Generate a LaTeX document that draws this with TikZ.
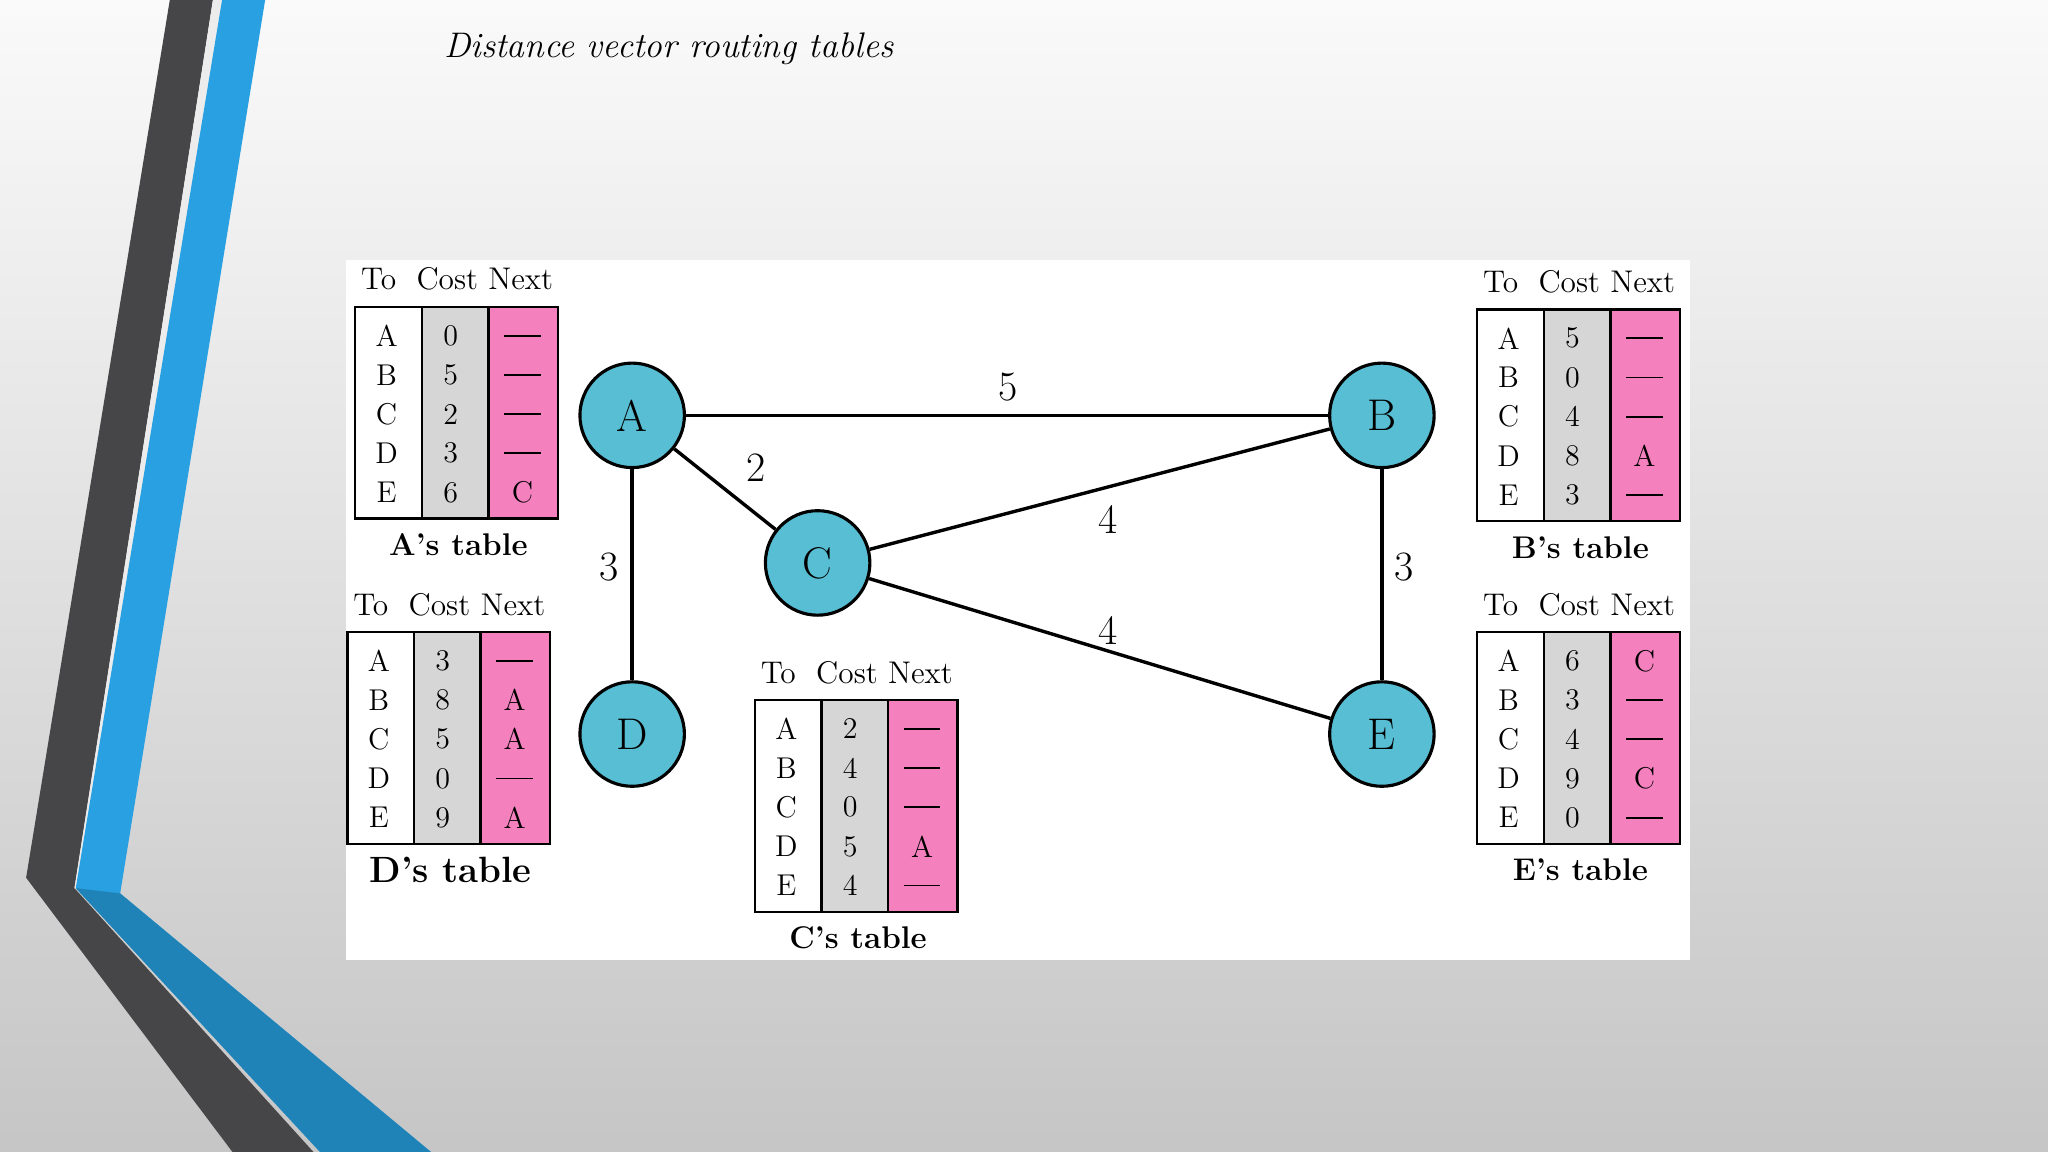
\documentclass[tikz,border=0pt]{standalone}
\usetikzlibrary{shapes.geometric}
\definecolor{nodecyan}{RGB}{88,190,212}
\definecolor{pinkc}{RGB}{244,128,190}
\definecolor{grayc}{RGB}{214,214,214}
\definecolor{darkband}{RGB}{70,70,72}
\definecolor{blueband}{RGB}{40,160,225}
\tikzset{
  router/.style={circle,draw=black,line width=1.2pt,fill=nodecyan,minimum size=40pt,font=\fontsize{17}{17}\selectfont,inner sep=0pt},
  link/.style={line width=1.3pt},
  elab/.style={font=\fontsize{16}{16}\selectfont},
  cell/.style={font=\fontsize{11.5}{12}\selectfont,inner sep=0pt},
  hdr/.style={font=\fontsize{12}{12}\selectfont,anchor=base},
  tcaption/.style={font=\bfseries\fontsize{12}{12}\selectfont}
}
\newcommand\dsh{\rule[0pt]{14pt}{0.7pt}}
% #1 name, #2 x, #3 y (top-left), #4 rows, #5 caption
\newcommand\dvtable[5]{%
  \fill[white] (#2,#3) rectangle +(51,162);
  \fill[grayc] (#2+51,#3) rectangle +(51,162);
  \fill[pinkc] (#2+102,#3) rectangle +(53,162);
  \draw[line width=0.9pt] (#2,#3) rectangle +(155,162);
  \draw[line width=0.9pt] (#2+51,#3) -- +(0,162) (#2+102,#3) -- +(0,162);
  \node[hdr] (#1h) at (#2+78,#3-13) {To\ \ Cost\ Next};
  \foreach \t/\c/\n [count=\i] in {#4}{
    \node[cell] (#1t\i) at (#2+24,#3-8+30*\i) {\t};
    \node[cell] (#1c\i) at (#2+73,#3-8+30*\i) {\c};
    \node[cell] (#1n\i) at (#2+128,#3-8+30*\i) {\n};
  }
  \node[tcaption] (#1cap) at (#2+79,#3+182) {#5};
}
\begin{document}
\begin{tikzpicture}[x=0.5pt,y=-0.5pt]
\useasboundingbox (0,0) rectangle (1568,882);
\shade[top color=white!96!gray,bottom color=gray!45] (0,0) rectangle (1568,882);
% left bands
\fill[darkband] (130,0) -- (163,0) -- (57,680) -- (240,882) -- (178,882) -- (20,672) -- cycle;
\fill[white!85!gray] (163,0) -- (170,0) -- (63,682) -- (57,680) -- cycle;
\fill[blueband] (170,0) -- (203,0) -- (92,684) -- (330,882) -- (245,882) -- (58,680) -- cycle;
\fill[blueband!70!black,opacity=0.6] (58,680) -- (92,684) -- (330,882) -- (245,882) -- cycle;
\node[font=\itshape\fontsize{13.6}{14}\selectfont] (title) at (512,37) {Distance vector routing tables};
% panel
\fill[white] (265,199) rectangle (1294,735);
% routers
\node[router] (A) at (484,318) {A};
\node[router] (B) at (1058,318) {B};
\node[router] (C) at (626,431) {C};
\node[router] (D) at (484,562) {D};
\node[router] (E) at (1058,562) {E};
\draw[link] (A) -- (B);
\draw[link] (A) -- (C);
\draw[link] (A) -- (D);
\draw[link] (C) -- (B);
\draw[link] (C) -- (E);
\draw[link] (B) -- (E);
\node[elab] (l1) at (772,296) {5};
\node[elab] (l2) at (579,358) {2};
\node[elab] (l3) at (848,398) {4};
\node[elab] (l4) at (466,434) {3};
\node[elab] (l5) at (1075,434) {3};
\node[elab] (l6) at (848,483) {4};
% tables
\dvtable{ta}{272}{235}{A/0/\dsh,B/5/\dsh,C/2/\dsh,D/3/\dsh,E/6/C}{A's table}
\dvtable{tb}{1131}{237}{A/5/\dsh,B/0/\dsh,C/4/\dsh,D/8/A,E/3/\dsh}{B's table}
\dvtable{td}{266}{484}{A/3/\dsh,B/8/A,C/5/A,D/0/\dsh,E/9/A}{\fontsize{14}{14}\selectfont D's table}
\dvtable{tc}{578}{536}{A/2/\dsh,B/4/\dsh,C/0/\dsh,D/5/A,E/4/\dsh}{C's table}
\dvtable{te}{1131}{484}{A/6/C,B/3/\dsh,C/4/\dsh,D/9/C,E/0/\dsh}{E's table}
\end{tikzpicture}
\end{document}
